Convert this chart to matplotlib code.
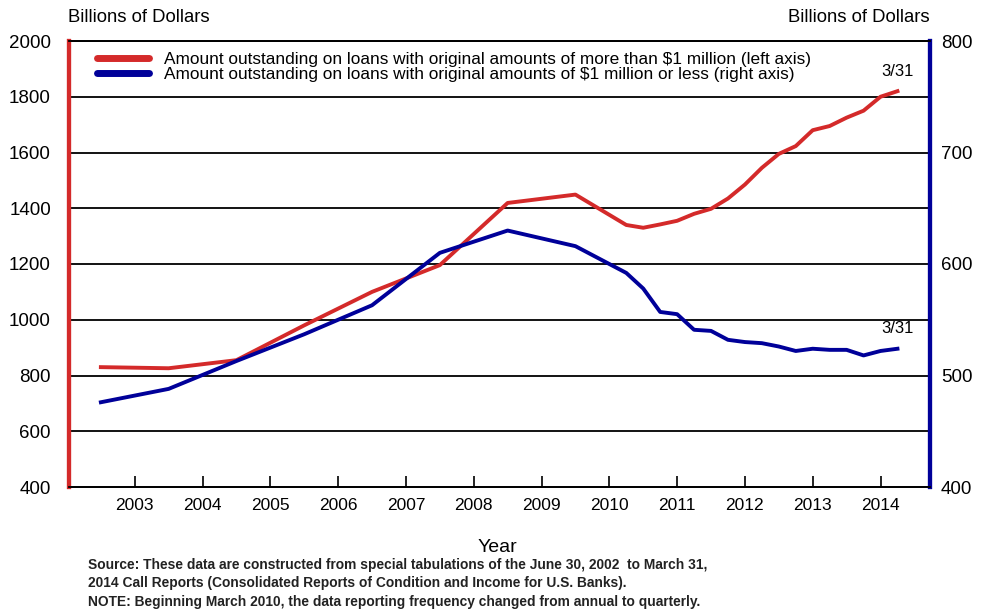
import numpy as np
from matplotlib import pyplot as plt
import matplotlib as mpl

plt.rcParams['font.family'] = ['Liberation Sans', 'DejaVu Sans']

# dates: annual (June 30) through 2009, quarterly from March 2010
years = [2002.5, 2003.5, 2004.5, 2005.5, 2006.5, 2007.5, 2008.5, 2009.5,
         2010.25, 2010.5, 2010.75, 2011.0, 2011.25, 2011.5, 2011.75, 2012.0,
         2012.25, 2012.5, 2012.75, 2013.0, 2013.25, 2013.5, 2013.75, 2014.0,
         2014.25]
# more than $1 million (left axis)
big_loans = [830, 826, 855, 980, 1100, 1196, 1419, 1449,
             1340, 1330, 1342, 1355, 1380, 1398, 1435, 1485,
             1545, 1595, 1623, 1680, 1695, 1725, 1750, 1800,
             1820]
# $1 million or less (right axis)
small_loans = [476, 488, 513, 537, 563, 610, 630, 616,
               592, 578, 557, 555, 541, 540, 532, 530,
               529, 526, 522, 524, 523, 523, 518, 522,
               524]
year_ticks = list(range(2003, 2015))
left_ticks = list(range(400, 2001, 200))
right_ticks = [400, 500, 600, 700, 800]

red = '#d42a2a'
blue = '#000099'

px = 1/100
fig = plt.figure(figsize=(981*px, 614*px), dpi=100)
ax = fig.add_axes([69/981, 1-487/614, 861/981, 446/614])
ax2 = ax.twinx()

ax.set_xlim(2002.03, 2014.73)
ax.set_ylim(400, 2000)
ax2.set_ylim(400, 800)

for v in left_ticks[1:]:
    ax.axhline(v, color='black', lw=1.3, zorder=1)

l1, = ax.plot(years, big_loans, color=red, lw=2.8, zorder=3)
l2, = ax2.plot(years, small_loans, color=blue, lw=2.8, zorder=3)

ax.set_xticks(year_ticks)
ax.set_xticklabels([str(y) for y in year_ticks])
ax.tick_params(axis='x', direction='in', length=8, width=1.2, pad=8,
               labelsize=12.5, colors='black')
ax.set_yticks(left_ticks)
ax.tick_params(axis='y', length=0, pad=13, labelsize=13.5)
ax2.set_yticks(right_ticks)
ax2.tick_params(axis='y', length=0, pad=8, labelsize=13.5)

for a in (ax, ax2):
    a.spines['top'].set_color('black')
    a.spines['top'].set_linewidth(1.3)
    a.spines['bottom'].set_color('black')
    a.spines['bottom'].set_linewidth(1.3)
    a.spines['left'].set_color(red)
    a.spines['left'].set_linewidth(3)
    a.spines['right'].set_color(blue)
    a.spines['right'].set_linewidth(3)

ax.annotate('3/31', (years[-1], big_loans[-1]), xytext=(0, 9),
            textcoords='offset points', ha='center', va='bottom', fontsize=12)
ax2.annotate('3/31', (years[-1], small_loans[-1]), xytext=(0, 9),
             textcoords='offset points', ha='center', va='bottom', fontsize=12)

leg_h1 = mpl.lines.Line2D([], [], color=red, lw=5, solid_capstyle='round')
leg_h2 = mpl.lines.Line2D([], [], color=blue, lw=5, solid_capstyle='round')
fig.legend([leg_h1, leg_h2],
           ['Amount outstanding on loans with original amounts of more than $1 million (left axis)',
            'Amount outstanding on loans with original amounts of $1 million or less (right axis)'],
           loc='upper left', bbox_to_anchor=(97/981, 1-52/614), frameon=False,
           fontsize=12.4, handlelength=3.0, handletextpad=0.9, labelspacing=0.0,
           borderpad=0, borderaxespad=0)

fig.text(68/981, 1-17/614, 'Billions of Dollars', ha='left', va='center', fontsize=13.3)
fig.text(930/981, 1-17/614, 'Billions of Dollars', ha='right', va='center', fontsize=13.3)
fig.text(497/981, 1-547/614, 'Year', ha='center', va='center', fontsize=14)

notes = ['Source: These data are constructed from special tabulations of the June 30, 2002  to March 31,',
         '2014 Call Reports (Consolidated Reports of Condition and Income for U.S. Banks).',
         'NOTE: Beginning March 2010, the data reporting frequency changed from annual to quarterly.']
for i, s in enumerate(notes):
    fig.text(88/981, 1-(565+18.5*i)/614, s, ha='left', va='center', fontsize=9.9,
             fontweight='bold', color='#222222')

plt.savefig('out.png', dpi=100)
